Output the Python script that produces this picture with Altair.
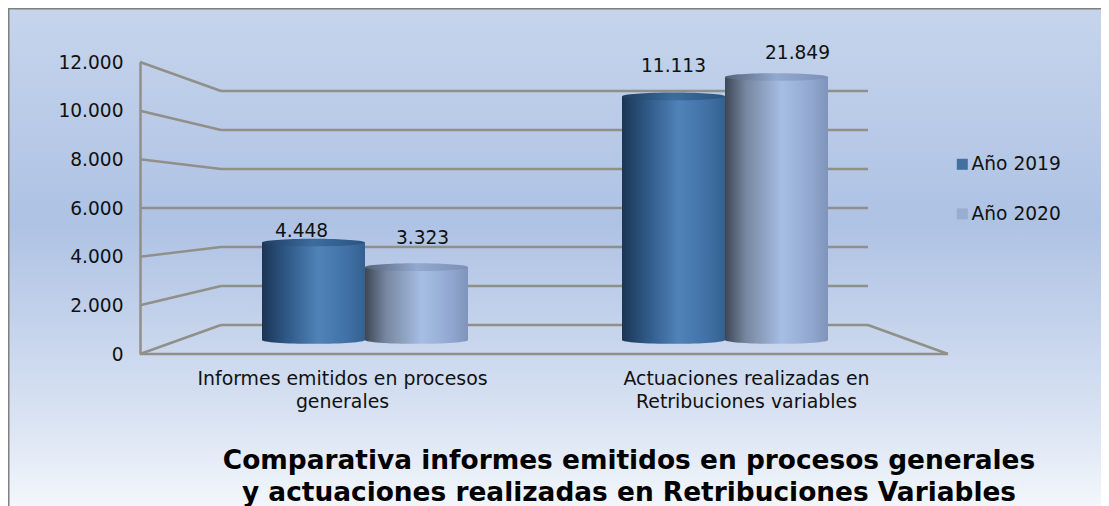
import altair as alt
import pandas as pd

categories = ["Informes emitidos en procesos\ngenerales", "Actuaciones realizadas en\nRetribuciones variables"]
years = ["Año 2019", "Año 2020"]
values_2019 = [4448, 11113]
values_2020 = [3323, 21849]
ticks = [0, 2000, 4000, 6000, 8000, 10000, 12000]
title_lines = ["Comparativa informes emitidos en procesos generales",
               "y actuaciones realizadas en Retribuciones Variables"]

W, H = 1093, 498
FONT = "DejaVu Sans"
GRID = "#918f8a"

rows = []
for i, c in enumerate(categories):
    rows.append({"cat": c, "year": years[0], "v": values_2019[i]})
    rows.append({"cat": c, "year": years[1], "v": values_2020[i]})
df = pd.DataFrame(rows)
grid = pd.DataFrame({"v": ticks})

yscale = alt.Scale(domain=[0, 12000], range=[346, 54])
Y_AX = alt.Axis(values=ticks, title=None, offset=-132, ticks=False, grid=False, domain=True,
                domainColor=GRID, domainWidth=2.5, labelFont=FONT, labelFontSize=18.6, labelColor="#111111",
                labelPadding=17, zindex=1,
                labelExpr="replace(format(datum.value, ','), ',', '.')")
y_plain = lambda f: alt.Y(f, type="quantitative", scale=yscale, axis=Y_AX)

def grad(stops, x2=1, y2=0):
    return alt.Gradient(gradient="linear", x1=0, y1=0, x2=x2, y2=y2,
                        stops=[alt.GradientStop(offset=o, color=c) for o, c in stops])

bg_grad = grad([(0, "#c6d5ec"), (0.42, "#aec2e4"), (0.8, "#d8e2f2"), (1, "#f6f9fd")], x2=0, y2=1)
blue = grad([(0, "#1c3554"), (0.25, "#2f5a88"), (0.55, "#5083b9"), (0.85, "#3f6fa3"), (1, "#33608f")])
grey = grad([(0, "#3c4656"), (0.2, "#76869f"), (0.55, "#a6bee4"), (0.85, "#90a6cf"), (1, "#7f94ba")])
blue_top = grad([(0, "#1f3d60"), (0.5, "#3c6c9e"), (1, "#2a5480")])
grey_top = grad([(0, "#566277"), (0.5, "#92a9d0"), (1, "#7c90b5")])

background = alt.Chart(pd.DataFrame({"a": [0]})).mark_rect(
    fill=bg_grad, stroke="#808080", strokeWidth=2
).encode(x=alt.value(0.5), x2=alt.value(W + 10), y=alt.value(0.5), y2=alt.value(H + 10))

walls = alt.Chart(grid).transform_calculate(back="1192 + datum.v * 0.8014")
wall_lines = walls.mark_rule(color=GRID, strokeWidth=2.5).encode(
    x=alt.value(213), x2=alt.value(860), y=y_plain("back:Q"))
left_diag = walls.mark_rule(color=GRID, strokeWidth=2.5).encode(
    x=alt.value(132), x2=alt.value(213), y=y_plain("v:Q"), y2="back:Q")
floor = alt.Chart(pd.DataFrame({"v": [0]})).transform_calculate(back="1192 + datum.v * 0.8014")
floor_front = floor.mark_rule(color=GRID, strokeWidth=2.5).encode(
    x=alt.value(132), x2=alt.value(940), y=y_plain("v:Q"))
floor_diag = floor.mark_rule(color=GRID, strokeWidth=2.5).encode(
    x=alt.value(860), x2=alt.value(940), y=y_plain("back:Q"), y2="v:Q")

xbars = alt.X("cat:N", sort=categories,
              scale=alt.Scale(domain=categories, range=[177, 897], paddingInner=0, paddingOuter=0), axis=None)
xoff = alt.XOffset("year:N", scale=alt.Scale(domain=years, range=[77, 283]))
bars_base = alt.Chart(df).transform_calculate(
    mid="575 + min(datum.v, 12000) * 0.9007", mid0="575",
    label="replace(format(datum.v, ','), ',', '.')")

ELLIPSE = "M-1,0A1,0.075 0 1,0 1,0A1,0.075 0 1,0 -1,0Z"
layers = [background, wall_lines, left_diag, floor_front, floor_diag]
for yr, body, top in [(years[0], blue, blue_top), (years[1], grey, grey_top)]:
    sel = bars_base.transform_filter(alt.datum.year == yr)
    layers.append(sel.mark_point(shape=ELLIPSE, size=10609, filled=True, fill=body, opacity=1, strokeWidth=0)
                  .encode(x=xbars, xOffset=xoff, y=y_plain("mid0:Q")))
    layers.append(sel.mark_bar(fill=body).encode(x=xbars, xOffset=xoff, y=y_plain("mid:Q"), y2="mid0:Q"))
    layers.append(sel.mark_point(shape=ELLIPSE, size=10609, filled=True, fill=top, opacity=1, strokeWidth=0)
                  .encode(x=xbars, xOffset=xoff, y=y_plain("mid:Q")))

nudges = [(0, -12, -12), (1, 6, -29), (2, 0, -30), (3, 21, -24)]
order = [(categories[0], years[0]), (categories[0], years[1]), (categories[1], years[0]), (categories[1], years[1])]
for idx, dx, dy in nudges:
    c, yr = order[idx]
    layers.append(
        bars_base.transform_filter((alt.datum.year == yr) & (alt.datum.cat == c))
        .mark_text(font=FONT, fontSize=18.6, color="#111111", dx=dx, dy=dy, baseline="middle")
        .encode(x=xbars, xOffset=xoff, y=y_plain("mid:Q"), text="label:N"))

# front-plane category axis and the legend, from an invisible layer
xfront = alt.X("cat:N", sort=categories, scale=alt.Scale(domain=categories, range=[132, 940]),
               axis=alt.Axis(title=None, labelAngle=0, offset=-152, domain=False, ticks=False, grid=False,
                             labelFont=FONT, labelFontSize=18.9, labelColor="#111111", labelPadding=15,
                             labelLineHeight=23, labelLimit=500, zindex=1,
                             labelExpr="split(datum.label, '\\n')"))
legend_layer = alt.Chart(df).mark_point(size=0, filled=True, opacity=1).encode(
    x=xfront, y=y_plain("v:Q"),
    color=alt.Color("year:N", scale=alt.Scale(domain=years, range=["#44709f", "#98add0"]),
                    legend=alt.Legend(orient="none", legendX=945, legendY=147, title=None,
                                      symbolType="square", symbolSize=121, symbolStrokeWidth=0,
                                      labelFont=FONT, labelFontSize=18.6, labelColor="#111111",
                                      rowPadding=30.6, labelOffset=0, symbolOpacity=1)))
layers.append(legend_layer)

chart = alt.layer(*layers).resolve_scale(x="independent").properties(
    width=W, height=H, padding=0, autosize=alt.AutoSizeParams(type="none"),
    title=alt.TitleParams(text=title_lines, orient="top", anchor="middle", offset=0, dx=74.5, dy=697,
                          font=FONT, fontWeight="bold", fontSize=26.4, lineHeight=32, color="#000000",
                          baseline="middle"),
).configure_view(stroke=None)

chart.save("out.html", embed_options={"renderer": "svg", "actions": False})
